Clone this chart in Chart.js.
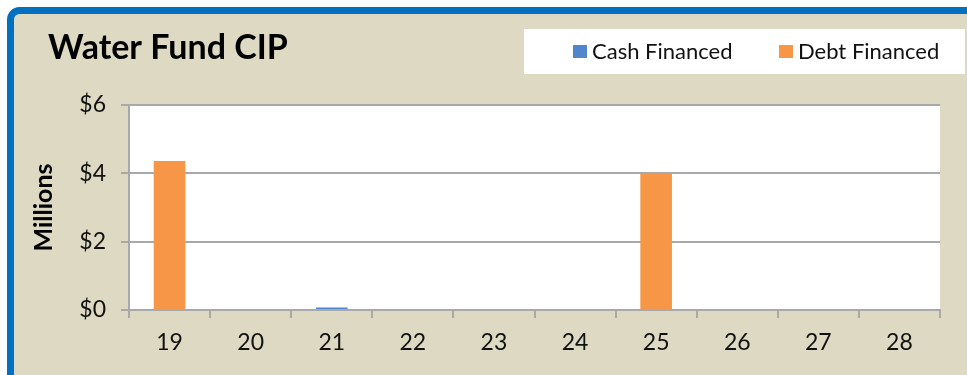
<!DOCTYPE html>
<html>
<head>
<meta charset="utf-8">
<script src="https://cdn.jsdelivr.net/npm/chart.js@4/dist/chart.umd.min.js"></script>
<style>
  html, body { margin: 0; padding: 0; background: #ffffff; }
  #wrap { width: 967px; height: 375px; }
</style>
</head>
<body>
<div id="wrap"><canvas id="cip" width="967" height="375"></canvas></div>
<script>
// Fiscal years (two-digit) and capital spending in millions of dollars
const categories = ['19', '20', '21', '22', '23', '24', '25', '26', '27', '28'];
const cashFinanced = [0, 0, 0.07, 0, 0, 0, 0, 0, 0, 0];
const debtFinanced = [4.36, 0, 0, 0, 0, 0, 4.0, 0, 0, 0];
const yTickValues = [0, 2, 4, 6];
const chartTitle = 'Water Fund CIP';
const yAxisTitle = 'Millions';

const FONT = 'Lato, "Open Sans", sans-serif';
const BEIGE = '#DDD9C3';
const FRAME_BLUE = '#0070C0';
const GRID = '#A9A9A9';
const CASH_COLOR = '#4F86CC';
const DEBT_COLOR = '#F79646';

// Panel background, frame, title and legend box
const panelPlugin = {
  id: 'panel',
  beforeDraw(chart) {
    const ctx = chart.ctx;
    const a = chart.chartArea;
    ctx.save();
    ctx.fillStyle = '#ffffff';
    ctx.fillRect(0, 0, chart.width, chart.height);

    // beige panel with a blue rounded frame running off the right/bottom edges
    ctx.beginPath();
    ctx.roundRect(10.5, 10.5, chart.width + 40, chart.height + 40, 9);
    ctx.fillStyle = BEIGE;
    ctx.fill();
    ctx.lineWidth = 7;
    ctx.strokeStyle = FRAME_BLUE;
    ctx.stroke();

    // plot area
    ctx.fillStyle = '#ffffff';
    ctx.fillRect(a.left, a.top, a.right - a.left, a.bottom - a.top);

    // title
    ctx.fillStyle = '#000000';
    ctx.font = 'bold 34px ' + FONT;
    ctx.textAlign = 'left';
    ctx.textBaseline = 'alphabetic';
    ctx.fillText(chartTitle, 48, 59);

    // legend box
    ctx.fillStyle = '#ffffff';
    ctx.fillRect(524, 29, 441, 45);
    const items = chart.data.datasets;
    const slots = [573, 779];
    ctx.font = '22px ' + FONT;
    ctx.textBaseline = 'middle';
    items.forEach((ds, i) => {
      const x = slots[i];
      ctx.fillStyle = ds.backgroundColor;
      ctx.fillRect(x, 45, 14, 13);
      ctx.fillStyle = '#111111';
      ctx.fillText(ds.label, x + 19, 51.5);
    });
    ctx.restore();
  }
};

new Chart(document.getElementById('cip'), {
  type: 'bar',
  data: {
    labels: categories,
    datasets: [
      { label: 'Cash Financed', data: cashFinanced, backgroundColor: CASH_COLOR },
      { label: 'Debt Financed', data: debtFinanced, backgroundColor: DEBT_COLOR }
    ]
  },
  plugins: [panelPlugin],
  options: {
    responsive: false,
    animation: false,
    devicePixelRatio: 1,
    layout: { padding: { left: 14, top: 105, right: 27, bottom: 0 } },
    datasets: { bar: { categoryPercentage: 1, barPercentage: 0.39 } },
    plugins: { legend: { display: false }, title: { display: false }, tooltip: { enabled: false } },
    scales: {
      x: {
        stacked: true,
        grid: { offset: true, drawOnChartArea: false, drawTicks: true, tickLength: 8, color: GRID, lineWidth: 2 },
        border: { color: GRID, width: 2 },
        ticks: { color: '#111111', font: { family: FONT, size: 23 }, padding: 11, maxRotation: 0 },
        afterFit(scale) { scale.height = 65; }
      },
      y: {
        stacked: true,
        min: yTickValues[0],
        max: yTickValues[yTickValues.length - 1],
        afterBuildTicks(scale) { scale.ticks = yTickValues.map(v => ({ value: v })); },
        grid: { color: GRID, lineWidth: 2, tickLength: 8 },
        border: { color: GRID, width: 2 },
        ticks: {
          color: '#111111',
          font: { family: FONT, size: 23 },
          padding: 15,
          callback: v => '$' + v
        },
        title: {
          display: true,
          text: yAxisTitle,
          color: '#000000',
          font: { family: FONT, size: 25, weight: 'bold' },
          padding: { top: 15, bottom: 0 }
        },
        afterFit(scale) { scale.width = 115; }
      }
    }
  }
});
</script>
</body>
</html>
